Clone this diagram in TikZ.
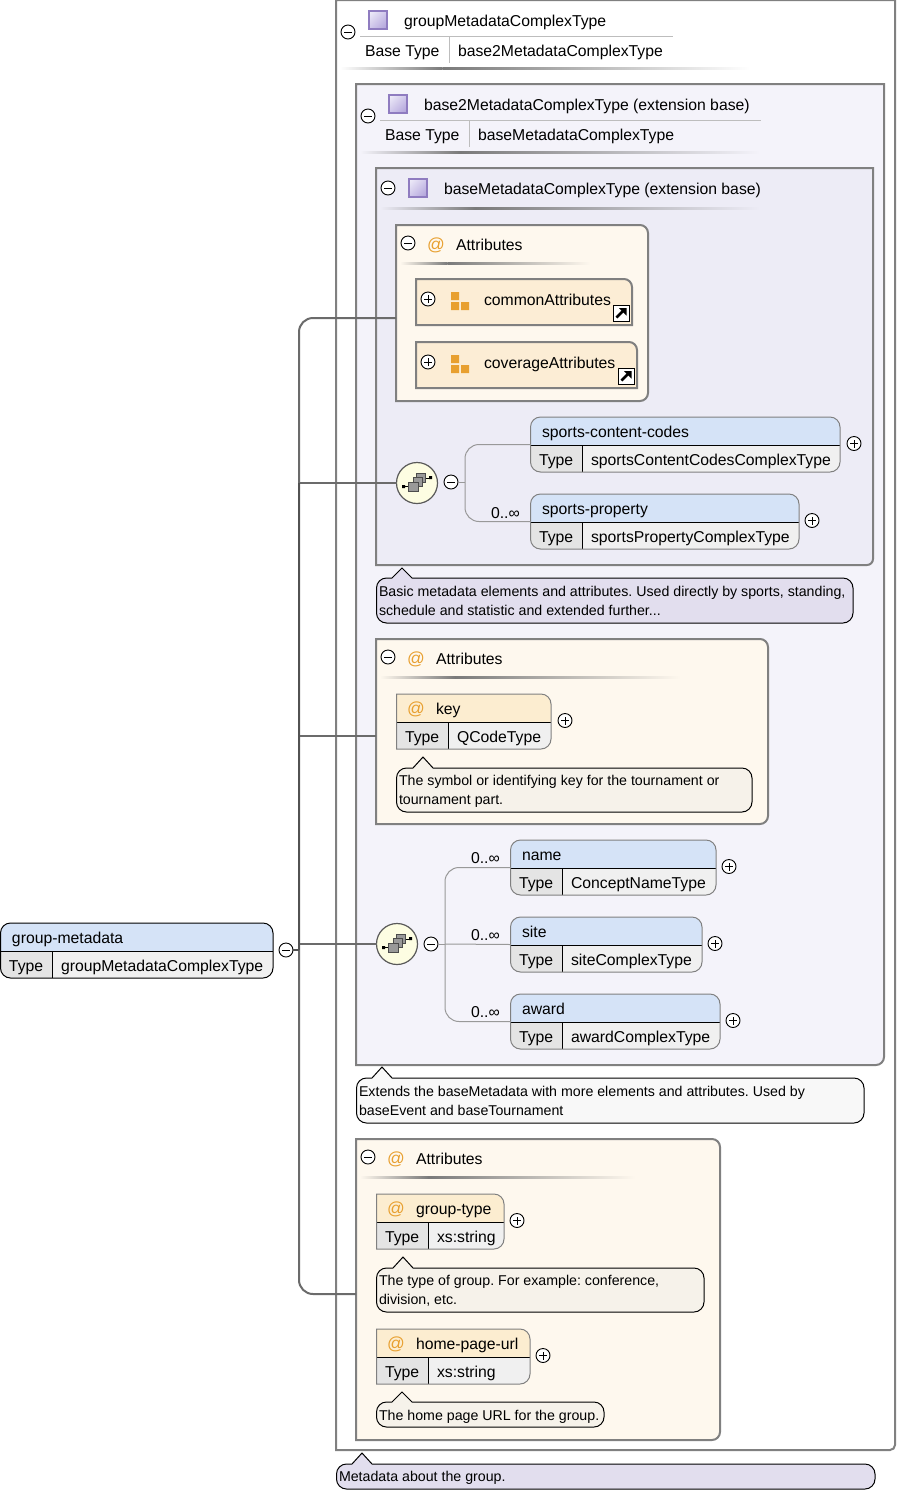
\documentclass[tikz,border=0pt]{standalone}
\usepackage{fontspec}
\usetikzlibrary{shadings}
\setmainfont{Liberation Sans}
\definecolor{cOuter}{HTML}{FFFFFF}
\definecolor{cBaseA}{HTML}{F4F3FA}
\definecolor{cBaseB}{HTML}{EDECF6}
\definecolor{cAttr}{HTML}{FEF8EE}
\definecolor{cGroup}{HTML}{FCEDD5}
\definecolor{cHead}{HTML}{D5E3F7}
\definecolor{cHeadAt}{HTML}{FCEDD0}
\definecolor{cType}{HTML}{E4E4E4}
\definecolor{cVal}{HTML}{F0F0F0}
\definecolor{cNoteP}{HTML}{E2DEEE}
\definecolor{cNoteW}{HTML}{F8F8F8}
\definecolor{cNoteA}{HTML}{F6F2EA}
\definecolor{cEdge}{HTML}{808080}
\definecolor{cOrange}{HTML}{E8A030}
\definecolor{cSeq}{HTML}{FDFDE2}
\definecolor{cSep}{HTML}{BDBDBD}
\definecolor{cPeak}{HTML}{7A7A7A}
\definecolor{cIcoA}{HTML}{F1EFFA}
\definecolor{cIcoB}{HTML}{CFC6EA}
\definecolor{cIcoC}{HTML}{AE9FD8}
\definecolor{cIcoE}{HTML}{8F7CC0}
\tikzset{
  x=1pt,y=-1pt,
  boxedge/.style={draw=cEdge,line width=2pt},
  anch/.style={inner sep=0pt,outer sep=0pt},
  lab/.style={anchor=base west,inner sep=0pt,outer sep=0pt,text=black,font=\fontsize{15.75}{18}\selectfont},
  notelab/.style={anchor=base west,inner sep=0pt,outer sep=0pt,text=black,font=\fontsize{14.2}{18}\selectfont},
  atlab/.style={anchor=base,inner sep=0pt,outer sep=0pt,text=cOrange,font=\fontsize{17.5}{18}\selectfont},
  trunk/.style={draw=black!58,line width=2pt},
  tree/.style={draw=black!40,line width=1pt},
  toggle/.style={circle,draw=black,fill=white,line width=0.9pt,minimum size=14pt,inner sep=0pt,outer sep=0pt},
  seqcirc/.style={circle,draw=black!65,fill=cSeq,line width=1.2pt,minimum size=41pt,inner sep=0pt,outer sep=0pt},
  notebox/.style={draw=black,line width=1pt},
  cell/.style={draw=black!70,fill=black!40,line width=0.7pt}
}
% one rounded corner from a to b with corner c is built with controls at 45 percent of the radius
\def\rr#1#2#3#4#5#6#7#8{({#1+#5},#2) -- ({#3-#6},#2) .. controls ({#3-0.45*#6},#2) and (#3,{#2+0.45*#6}) .. (#3,{#2+#6}) -- (#3,{#4-#7}) .. controls (#3,{#4-0.45*#7}) and ({#3-0.45*#7},#4) .. ({#3-#7},#4) -- ({#1+#8},#4) .. controls ({#1+0.45*#8},#4) and (#1,{#4-0.45*#8}) .. (#1,{#4-#8}) -- (#1,{#2+#5}) .. controls (#1,{#2+0.45*#5}) and ({#1+0.45*#5},#2) .. ({#1+#5},#2) -- cycle}
\newcommand\anchorbox[5]{\node[anch,minimum width={(#4-#2)*1pt},minimum height={(#5-#3)*1pt}] (#1) at ({(#2+#4)/2},{(#3+#5)/2}) {};}
\newcounter{tc}
\newcommand\lbl[3]{\stepcounter{tc}\node[lab] (t\arabic{tc}) at (#1,{#2+6}) {#3};}
\newcommand\atl[2]{\stepcounter{tc}\node[atlab] (t\arabic{tc}) at (#1,{#2+6}) {@};}
\newcommand\ntl[3]{\stepcounter{tc}\node[notelab] (t\arabic{tc}) at (#1,{#2+5}) {#3};}
\newcommand\minusb[3]{\node[toggle] (#1) at (#2,#3) {};\draw[line width=0.9pt] ([xshift=-4pt]#1.center) -- ([xshift=4pt]#1.center);}
\newcommand\plusb[3]{\node[toggle] (#1) at (#2,#3) {};\draw[line width=0.9pt] ([xshift=-4pt]#1.center) -- ([xshift=4pt]#1.center) ([yshift=-4pt]#1.center) -- ([yshift=4pt]#1.center);}
% container: name x1 y1 x2 y2 fill rTR rBR
\newcommand\cont[8]{\anchorbox{#1}{#2}{#3}{#4}{#5}\path[boxedge,fill=#6] \rr{#2}{#3}{#4}{#5}{0}{#7}{#8}{0};}
\def\rl{10}
% element: name x1 y1 x2 y2 ysep xsep head border
\newcommand\elem[9]{\anchorbox{#1}{#2}{#3}{#4}{#5}
  \begin{scope}\clip \rr{#2}{#3}{#4}{#5}{\rl}{10}{10}{\rl};
    \fill[#8] (#2,#3) rectangle (#4,#6);
    \fill[cType] (#2,#6) rectangle (#7,#5);
    \fill[cVal] (#7,#6) rectangle (#4,#5);
  \end{scope}
  \draw[black,line width=1pt] (#2,#6) -- (#4,#6) (#7,#6) -- (#7,#5);
  \draw[#9,line width=1pt] \rr{#2}{#3}{#4}{#5}{\rl}{10}{10}{\rl};}
% note: name x1 y1 x2 y2 apexx apexy fill
\newcommand\notebx[8]{\anchorbox{#1}{#2}{#3}{#4}{#5}
  \path[notebox,fill=#8] ({#2+10},#3) -- ({#6-10},#3) -- (#6,#7) -- ({#6+10},#3) -- ({#4-10},#3) .. controls ({#4-4.5},#3) and (#4,{#3+4.5}) .. (#4,{#3+10}) -- (#4,{#5-10}) .. controls (#4,{#5-4.5}) and ({#4-4.5},#5) .. ({#4-10},#5) -- ({#2+10},#5) .. controls ({#2+4.5},#5) and (#2,{#5-4.5}) .. (#2,{#5-10}) -- (#2,{#3+10}) .. controls (#2,{#3+4.5}) and ({#2+4.5},#3) .. ({#2+10},#3) -- cycle;}
% gradient rule: x1 x2 y bg
\newcommand\grad[4]{\shade[left color=#4,right color=cPeak] (#1,{#3-1}) rectangle ({#1+0.25*(#2-#1)},{#3+1});
  \shade[left color=cPeak,right color=#4] ({#1+0.25*(#2-#1)},{#3-1}) rectangle (#2,{#3+1});}
\newcommand\typeicon[3]{\node[anch,minimum size=18pt] (#1) at ({#2+9},{#3+9}) {};\shade[upper left=cIcoA,upper right=cIcoB,lower left=cIcoB,lower right=cIcoC] (#2,#3) rectangle ({#2+18},{#3+18});\draw[cIcoE,line width=1.2pt] (#2,#3) rectangle ({#2+18},{#3+18});}
\newcommand\groupicon[3]{\node[anch,minimum size=18pt] (#1) at ({#2+9},{#3+9}) {};\fill[cOrange] (#2,#3) rectangle ({#2+8},{#3+8}) (#2,{#3+10}) rectangle ({#2+8},{#3+18}) ({#2+10},{#3+10}) rectangle ({#2+18},{#3+18});}
\newcommand\linkicon[3]{\node[anch,draw=black,fill=white,line width=1pt,minimum size=16pt] (#1) at ({#2+8},{#3+8}) {};\draw[black,line width=2.6pt] ({#2+3.5},{#3+12.5}) -- ({#2+10},{#3+6});\fill[black] ({#2+6},{#3+3}) -- ({#2+13.5},{#3+3}) -- ({#2+13.5},{#3+10.5}) -- cycle;}
\newcommand\seqicon[3]{\node[seqcirc] (#1) at (#2,#3) {};
  \draw[black,line width=0.8pt] ({#2-13},{#3+3}) -- ({#2-8},{#3+3}) ({#2+8},{#3-5}) -- ({#2+13},{#3-5});
  \fill[black] ({#2-15},{#3+2}) rectangle ({#2-12},{#3+5}) ({#2+12},{#3-7}) rectangle ({#2+15},{#3-4});
  \path[cell] ({#2-0.7},{#3-9.3}) rectangle ({#2+8.3},{#3-1});
  \path[cell] ({#2-4},{#3-6}) rectangle ({#2+5},{#3+3.3});
  \path[cell] ({#2-8.3},{#3-1}) rectangle ({#2+1},{#3+8});}
\begin{document}
\frenchspacing
\begin{tikzpicture}
\useasboundingbox (0,0) rectangle (897,1492);
\fill[white] (0,0) rectangle (897,1492);

% outer type box
\cont{outer}{336}{0}{895}{1450}{cOuter}{0}{5}
\typeicon{ico1}{369}{11}
\lbl{404}{20}{groupMetadataComplexType}
\draw[cSep,line width=1pt] (360,36.5) -- (673,36.5) (449.5,37) -- (449.5,63);
\lbl{365}{50}{Base Type}
\lbl{458}{50}{base2MetadataComplexType}
\grad{340}{750}{68}{cOuter}

% base2
\cont{basetwo}{356}{84}{884}{1065}{cBaseA}{0}{8}
\typeicon{ico2}{389}{95}
\lbl{424}{104}{base2MetadataComplexType (extension base)}
\draw[cSep,line width=1pt] (380,120.5) -- (761,120.5) (469.5,121) -- (469.5,147);
\lbl{385}{134}{Base Type}
\lbl{478}{134}{baseMetadataComplexType}
\grad{360}{760}{152}{cBaseA}

% base
\cont{baseone}{376}{168}{873}{565}{cBaseB}{0}{6}
\typeicon{ico3}{409}{179}
\lbl{444}{188}{baseMetadataComplexType (extension base)}
\grad{380}{760}{208.5}{cBaseB}

% attributes 1
\cont{attrone}{396}{225}{648}{401}{cAttr}{8}{8}
\atl{436}{244}
\lbl{456}{244}{Attributes}
\grad{400}{590}{263}{cAttr}

\anchorbox{common}{416}{279}{632}{325}
\path[boxedge,fill=cGroup] \rr{416}{279}{632}{325}{0}{8}{0}{0};
\groupicon{ico4}{451}{292}
\lbl{484}{299}{commonAttributes}
\linkicon{lnk1}{613}{305}
\anchorbox{coverage}{416}{342}{637}{388}
\path[boxedge,fill=cGroup] \rr{416}{342}{637}{388}{0}{8}{0}{0};
\groupicon{ico5}{451}{355}
\lbl{484}{362}{coverageAttributes}
\linkicon{lnk2}{618}{368}

% elements in base
\elem{sportscodes}{530.5}{417}{840}{472}{445}{582}{cHead}{black!50}
\lbl{542}{431}{sports-content-codes}
\lbl{539}{459}{Type}
\lbl{591}{459}{sportsContentCodesComplexType}
\elem{sportsprop}{530.5}{494}{799}{549}{522}{582}{cHead}{black!50}
\lbl{542}{508}{sports-property}
\lbl{539}{536}{Type}
\lbl{591}{536}{sportsPropertyComplexType}
\lbl{491}{512}{0..∞}
\notebx{noteone}{376.5}{578}{853}{623}{402}{568}{cNoteP}
\ntl{379}{591}{Basic metadata elements and attributes. Used directly by sports, standing,}
\ntl{379}{610}{schedule and statistic and extended further...}

% attributes 2
\cont{attrtwo}{376}{639}{768}{824}{cAttr}{8}{8}
\atl{416}{658}
\lbl{436}{658}{Attributes}
\grad{380}{680}{677}{cAttr}
\def\rl{0}
\elem{keyel}{396.5}{694}{551}{749}{722}{448}{cHeadAt}{black!50}
\atl{416}{708}
\lbl{436}{708}{key}
\lbl{405}{736}{Type}
\lbl{457}{736}{QCodeType}
\notebx{notekey}{396.5}{768}{752}{812}{423}{757}{cNoteA}
\ntl{399}{780}{The symbol or identifying key for the tournament or}
\ntl{399}{799}{tournament part.}
\def\rl{10}

% second sequence
\elem{nameel}{510.5}{840}{716}{895}{868}{562}{cHead}{black!50}
\lbl{522}{854}{name}
\lbl{519}{882}{Type}
\lbl{571}{882}{ConceptNameType}
\elem{siteel}{510.5}{917}{702}{972}{945}{562}{cHead}{black!50}
\lbl{522}{931}{site}
\lbl{519}{959}{Type}
\lbl{571}{959}{siteComplexType}
\elem{awardel}{510.5}{994}{720}{1049}{1022}{562}{cHead}{black!50}
\lbl{522}{1008}{award}
\lbl{519}{1036}{Type}
\lbl{571}{1036}{awardComplexType}
\lbl{471}{857}{0..∞}
\lbl{471}{934}{0..∞}
\lbl{471}{1011}{0..∞}

\notebx{notetwo}{356.5}{1078}{864}{1123}{382}{1067}{cNoteW}
\ntl{359}{1091}{Extends the baseMetadata with more elements and attributes. Used by}
\ntl{359}{1110}{baseEvent and baseTournament}

% attributes 3
\cont{attrthree}{356}{1139}{720}{1440}{cAttr}{8}{8}
\atl{396}{1158}
\lbl{416}{1158}{Attributes}
\grad{360}{635}{1177}{cAttr}
\def\rl{0}
\elem{gtype}{376.5}{1194}{504}{1249}{1222}{428}{cHeadAt}{black!50}
\atl{396}{1208}
\lbl{416}{1208}{group-type}
\lbl{385}{1236}{Type}
\lbl{437}{1236}{xs:string}
\notebx{notegt}{376.5}{1268}{704}{1312}{403}{1257}{cNoteA}
\ntl{379}{1280}{The type of group. For example: conference,}
\ntl{379}{1299}{division, etc.}
\elem{hpurl}{376.5}{1329}{530}{1384}{1357}{428}{cHeadAt}{black!50}
\atl{396}{1343}
\lbl{416}{1343}{home-page-url}
\lbl{385}{1371}{Type}
\lbl{437}{1371}{xs:string}
\notebx{notehp}{376.5}{1402}{604}{1427}{402}{1392}{cNoteA}
\ntl{379}{1415}{The home page URL for the group.}
\def\rl{10}

\notebx{noteouter}{336.5}{1464}{875}{1489}{362}{1453}{cNoteP}
\ntl{339}{1476}{Metadata about the group.}

% root element
\elem{root}{0.5}{923}{273}{978}{951}{52}{cHead}{black}
\lbl{12}{937}{group-metadata}
\lbl{9}{965}{Type}
\lbl{61}{965}{groupMetadataComplexType}

% toggles and sequence markers
\minusb{mouter}{348}{32}
\minusb{mbasetwo}{368}{116}
\minusb{mbaseone}{388}{188}
\minusb{mattrone}{408}{243}
\minusb{mattrtwo}{388}{657}
\minusb{mattrthree}{368}{1157}
\minusb{mroot}{286}{950}
\plusb{pcommon}{428}{299}
\plusb{pcoverage}{428}{362}
\seqicon{seqone}{417}{483}
\minusb{mseqone}{451}{482}
\seqicon{seqtwo}{397}{944}
\minusb{mseqtwo}{431}{944}
\plusb{psc}{854}{443.5}
\plusb{psp}{812}{520.5}
\plusb{pkey}{565}{720.5}
\plusb{pname}{729}{866.5}
\plusb{psite}{715}{943.5}
\plusb{paward}{733}{1020.5}
\plusb{pgt}{517}{1220.5}
\plusb{php}{543}{1355.5}

% tree connectors
\coordinate (treeone) at (465,482);
\coordinate (treetwo) at (445,944);
\draw[tree] (mseqone.east) -- (treeone);
\draw[tree,rounded corners=14pt] (sportscodes.west) -| (treeone) |- (sportsprop.west);
\draw[tree] (mseqtwo.east) -- (treetwo);
\draw[tree,rounded corners=14pt] (nameel.west) -| (treetwo) |- (awardel.west);
\draw[tree] (treetwo) -- (siteel.west);

% trunk
\coordinate (trunkj) at (299,950);
\draw[trunk,rounded corners=14pt] ([yshift=-5pt]attrone.west) -| (trunkj) |- ([yshift=-4.5pt]attrthree.west);
\draw[trunk] (seqone.west) -- (seqone.west -| trunkj);
\draw[trunk] ([yshift=-4.5pt]attrtwo.west) -- ([yshift=-4.5pt]attrtwo.west -| trunkj);
\draw[trunk] (seqtwo.west) -- (seqtwo.west -| trunkj);
\draw[draw=black!68,line width=2.6pt] (seqone.west -| trunkj) -- (trunkj);
\draw[draw=black!68,line width=2.6pt] (mroot.east) -- (trunkj);
\end{tikzpicture}
\end{document}
